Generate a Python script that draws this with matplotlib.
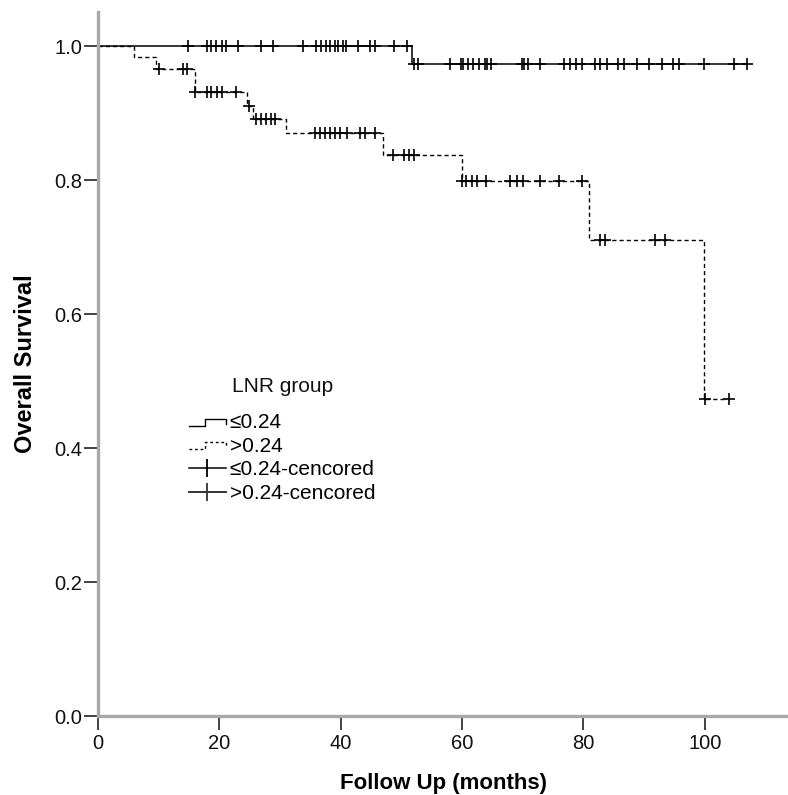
import numpy as np
import matplotlib
matplotlib.use('Agg')
import matplotlib.pyplot as plt
from matplotlib.lines import Line2D
from matplotlib.legend_handler import HandlerBase

plt.rcParams['font.family'] = ['Liberation Sans', 'DejaVu Sans']

# ---------------- data ----------------
legend_title = 'LNR group'
group_labels = ['≤0.24', '>0.24']
censor_labels = ['≤0.24-cencored', '>0.24-cencored']

low_event_times = [51.8]
low_event_surv = [0.974]
low_censor_times = [14.9, 18.0, 18.7, 19.5, 20.4, 21.1, 23.0, 26.8, 28.8, 33.8,
                    36.0, 36.7, 37.5, 38.2, 39.0, 39.6, 40.3, 40.9, 42.9, 44.8,
                    45.6, 48.8, 50.9, 52.0, 52.8, 58.0, 59.8, 60.2, 60.9, 61.8,
                    62.8, 63.8, 64.1, 64.8, 69.8, 70.2, 70.9, 72.8, 76.8, 77.8,
                    78.8, 79.8, 81.9, 82.7, 83.8, 85.7, 86.7, 88.8, 90.8, 92.9,
                    94.8, 95.8, 99.8, 104.8, 106.9]

high_event_times = [6.0, 9.5, 16.0, 24.5, 25.6, 31.0, 47.0, 60.0, 80.9, 99.8]
high_event_surv = [0.984, 0.966, 0.932, 0.910, 0.891, 0.870, 0.838, 0.799, 0.711, 0.473]
high_censor_times = [10.0, 14.0, 14.7, 16.0, 17.9, 18.7, 19.6, 20.4, 22.8, 24.9,
                     26.1, 26.9, 27.7, 28.5, 29.2, 35.7, 36.6, 37.4, 38.2, 39.0,
                     39.9, 41.0, 43.2, 44.0, 45.6, 48.6, 50.5, 51.3, 52.1, 60.0,
                     60.7, 61.6, 62.4, 63.9, 67.9, 69.0, 70.1, 72.8, 76.0, 79.8,
                     82.7, 83.5, 91.8, 93.4, 100.0, 104.0]

x_ticks = [0, 20, 40, 60, 80, 100]
y_ticks = [0.0, 0.2, 0.4, 0.6, 0.8, 1.0]
x_label = 'Follow Up (months)'
y_label = 'Overall Survival'


def km_curve(event_times, event_surv, censor_times):
    t = np.r_[0.0, event_times]
    s = np.r_[1.0, event_surv]
    end = max(max(censor_times), t[-1])
    step_t = np.r_[t, end]
    step_s = np.r_[s, s[-1]]
    idx = np.searchsorted(t, censor_times, side='right') - 1
    return step_t, step_s, np.asarray(censor_times), s[idx]


fig = plt.figure(figsize=(7.88, 7.95), dpi=100)
ax = fig.add_axes([98 / 788, (795 - 716) / 795, 1 - 98 / 788, (716 - 12) / 795])

dash = (0, (3, 2.2))
lt, ls_, lct, lcs = km_curve(low_event_times, low_event_surv, low_censor_times)
ht, hs_, hct, hcs = km_curve(high_event_times, high_event_surv, high_censor_times)

h_low, = ax.step(lt, ls_, where='post', color='black', lw=1.1)
h_high, = ax.step(ht, hs_, where='post', color='black', lw=1.0, linestyle=dash)
ax.plot(lct, lcs, linestyle='none', marker='+', color='black', markersize=8.5, mew=1.2)
ax.plot(hct, hcs, linestyle='none', marker='+', color='black', markersize=8.5, mew=1.2)

ax.set_xlim(0, 113.7)
ax.set_ylim(0, 1.051)
ax.set_xticks(x_ticks)
ax.set_yticks(y_ticks)
ax.set_yticklabels([f'{v:.1f}' for v in y_ticks])
ax.tick_params(axis='both', direction='out', length=10, width=1.2, color='#222222',
               labelsize=14.5, labelcolor='#111111')
ax.tick_params(axis='y', pad=1.5)
ax.tick_params(axis='x', pad=3)

for side in ['top', 'right']:
    ax.spines[side].set_visible(False)
for side in ['left', 'bottom']:
    ax.spines[side].set_color('#a8a8a8')
    ax.spines[side].set_linewidth(2.4)

ax.set_xlabel(x_label, fontsize=16, fontweight='bold')
ax.set_ylabel(y_label, fontsize=17, fontweight='bold')
ax.xaxis.set_label_coords(0.5, -0.081)
ax.yaxis.set_label_coords(-0.088, 0.5)


class StepHandler(HandlerBase):
    def __init__(self, linestyle):
        super().__init__()
        self.ls = linestyle

    def create_artists(self, legend, orig_handle, xdescent, ydescent, width,
                       height, fontsize, trans):
        xs = np.array([0, 0.45, 0.45, 1.0, 1.0]) * width - xdescent
        ys = np.array([0.15, 0.15, 0.65, 0.65, 0.3]) * height - ydescent
        line = Line2D(xs, ys, color='black', lw=1.0, linestyle=self.ls, transform=trans)
        return [line]


c_low = Line2D([], [], color='black', lw=1.1, marker='|', markersize=13, mew=1.3)
c_high = Line2D([], [], color='#333333', lw=1.4, marker='|', markersize=13, mew=1.3)

leg = ax.legend([h_low, h_high, c_low, c_high],
                group_labels + censor_labels,
                title=legend_title, loc='upper left',
                bbox_to_anchor=(0.132, 0.481), frameon=False,
                borderaxespad=0, borderpad=0, fontsize=15, title_fontsize=15,
                handlelength=1.75, handletextpad=0.2, labelspacing=0.22,
                numpoints=1,
                handler_map={h_low: StepHandler('-'), h_high: StepHandler((0, (2, 2)))})
leg.get_title().set_color('#111111')
leg._legend_box.sep = 12

fig.savefig('out.png', dpi=100)
